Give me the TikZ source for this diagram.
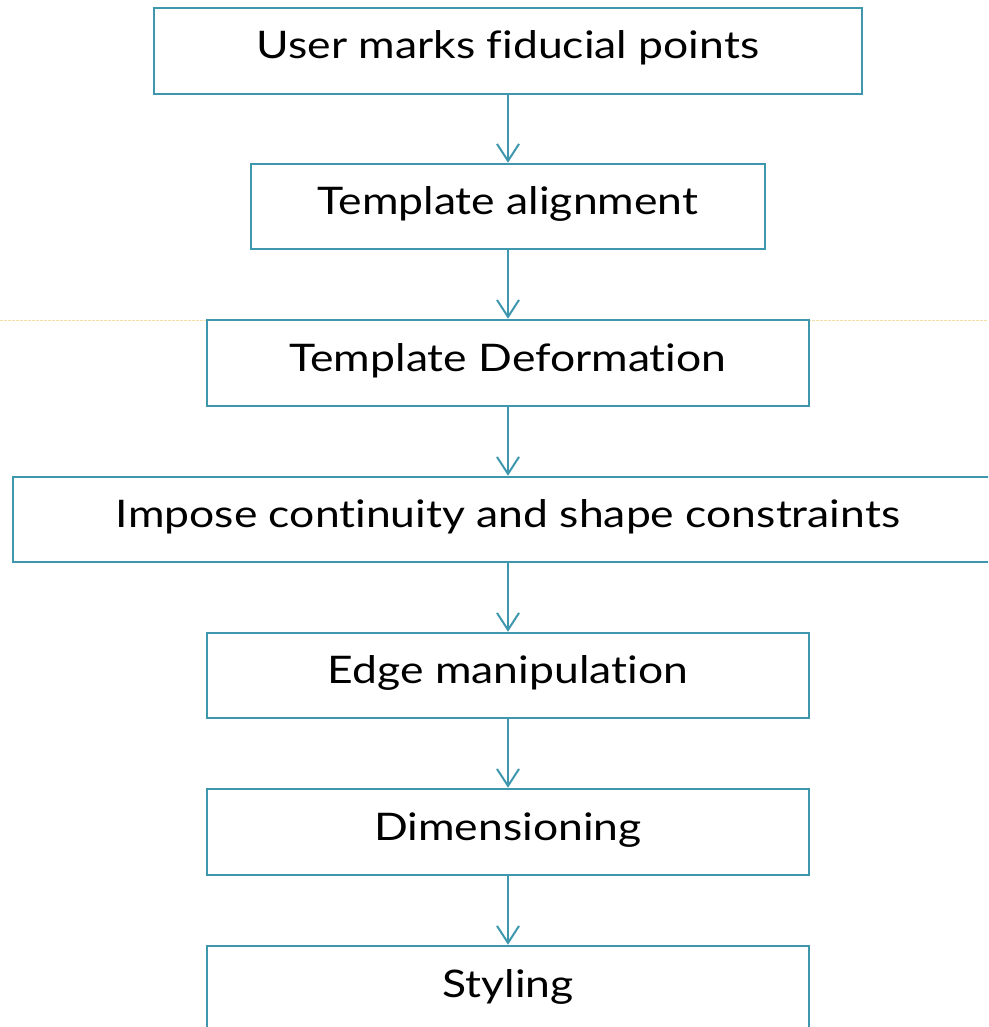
\documentclass[tikz,border=0pt]{standalone}
\usepackage{fontspec}
\setmainfont{Lato}[Ligatures={NoCommon}, FakeStretch=1.17]
\usetikzlibrary{arrows.meta}
\definecolor{boxteal}{HTML}{3F97AE}
\definecolor{guide}{HTML}{F2DFA6}
\tikzset{
  stepbox/.style={draw=boxteal, line width=2.5pt, fill=none, inner sep=0pt,
    text height=28pt, text depth=12pt, font=\fontsize{38}{43}\selectfont},
  flow/.style={draw=boxteal, line width=2pt, -{Straight Barb[length=17pt,width=22pt,line width=2pt]}}
}
\begin{document}
\begin{tikzpicture}[x=1pt,y=1pt]
\useasboundingbox (0,0) rectangle (988,-1027);
\clip (0,0) rectangle (988,-1027);
\draw[guide, line width=1pt, dashed, dash pattern=on 3pt off 1pt] (0,-320) -- (988,-320);
\node[stepbox, minimum width=708pt, minimum height=86pt] (b1) at (508,-51) {User marks fiducial points};
\node[stepbox, minimum width=514pt, minimum height=85pt] (b2) at (508,-206.5) {Template alignment};
\node[stepbox, minimum width=602pt, minimum height=86pt, fill=white] (b3) at (508,-363) {Template Deformation};
\node[stepbox, minimum width=990pt, minimum height=85pt] (b4) at (508,-519.5) {Impose continuity and shape constraints};
\node[stepbox, minimum width=602pt, minimum height=85pt] (b5) at (508,-675.5) {Edge manipulation};
\node[stepbox, minimum width=602pt, minimum height=86pt] (b6) at (508,-832) {Dimensioning};
\node[stepbox, minimum width=602pt, minimum height=86pt] (b7) at (508,-989) {Styling};
\draw[flow] (b1.south) -- (b2.north);
\draw[flow] (b2.south) -- (b3.north);
\draw[flow] (b3.south) -- (b4.north);
\draw[flow] (b4.south) -- (b5.north);
\draw[flow] (b5.south) -- (b6.north);
\draw[flow] (b6.south) -- (b7.north);
\end{tikzpicture}
\end{document}
